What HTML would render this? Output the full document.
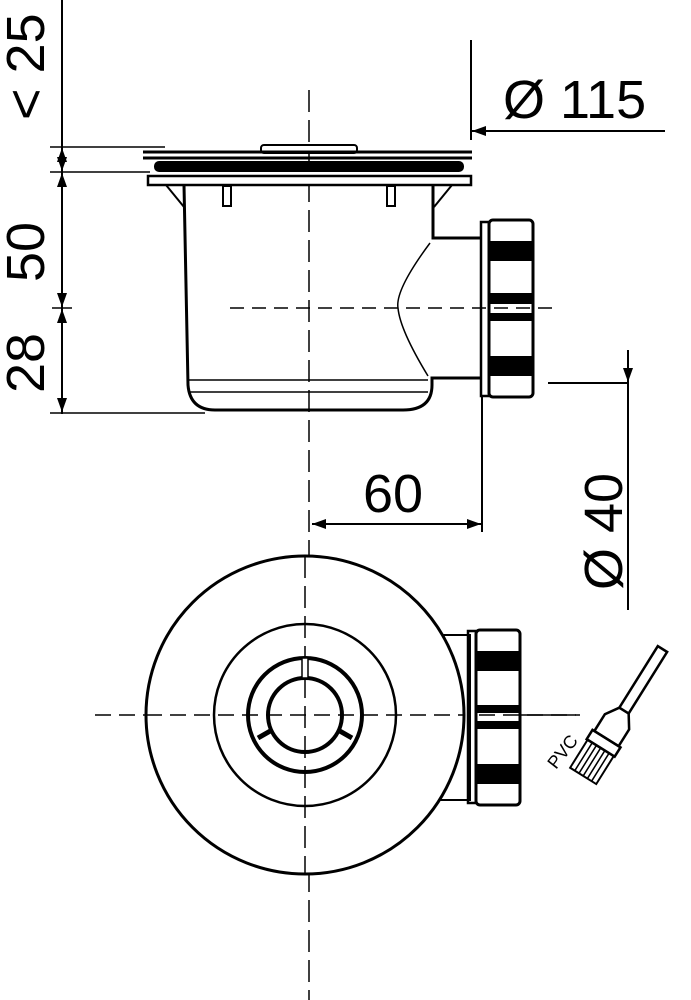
<!DOCTYPE html><html><head><style>body{margin:0;background:#fff}svg{display:block}text{font-family:"Liberation Sans",sans-serif;fill:#000}</style></head><body>
<svg width="691" height="1000" viewBox="0 0 691 1000" xmlns="http://www.w3.org/2000/svg">
<defs><marker id="a" markerWidth="14" markerHeight="10" refX="14" refY="5" orient="auto" markerUnits="userSpaceOnUse"><path d="M0,0 L14,5 L0,10z" fill="#000"/></marker></defs>
<g stroke="#000" fill="none" stroke-width="2">
<line x1="309" y1="90" x2="309" y2="1000" stroke-width="1.5" stroke-dasharray="22,8"/>
<line x1="230" y1="308" x2="560" y2="308" stroke-width="1.5" stroke-dasharray="14,8"/>
<line x1="95" y1="715" x2="580" y2="715" stroke-width="1.5" stroke-dasharray="16,8"/>
<rect x="261" y="145" width="96" height="8" rx="3" fill="#fff"/>
<line x1="143" y1="152" x2="472" y2="152" stroke-width="3"/>
<line x1="143" y1="158" x2="472" y2="158" stroke-width="3"/>
<rect x="155" y="162" width="308" height="9" rx="4" fill="#000"/>
<rect x="148" y="176" width="323" height="9" fill="#fff" stroke-width="2.5"/>
<line x1="166" y1="185" x2="184" y2="207"/><line x1="452" y1="185" x2="434" y2="207"/>
<rect x="223" y="186" width="8" height="20"/><rect x="387" y="186" width="8" height="20"/>
<path d="M184,185 L188,385 Q190,410 215,410 L403,410 Q432,410 432,385 L432,378 L480,378 M480,238 L433,238 L433,185" stroke-width="3"/>
<line x1="188" y1="380" x2="428" y2="380" stroke-width="1.5"/><line x1="188" y1="392" x2="428" y2="392" stroke-width="1.5"/>
<path d="M430,243 Q395,290 398,308 Q400,330 428,376" stroke-width="1.5"/>
<rect x="481" y="222" width="8" height="174" stroke-width="2.5"/>
<rect x="489" y="220" width="44" height="177" rx="4" stroke-width="3"/>
<rect x="489" y="242" width="44" height="18" fill="#000"/><rect x="489" y="294" width="44" height="9" fill="#000"/><rect x="489" y="314" width="44" height="6" fill="#000"/><rect x="489" y="357" width="44" height="18" fill="#000"/>
<line x1="62" y1="0" x2="62" y2="414"/>
<line x1="50" y1="147" x2="165" y2="147" stroke-width="1.5"/>
<line x1="50" y1="172" x2="150" y2="172" stroke-width="1.5"/>
<line x1="50" y1="413" x2="205" y2="413" stroke-width="1.5"/>
<line x1="62" y1="165" x2="62" y2="148" marker-end="url(#a)"/>
<line x1="62" y1="155" x2="62" y2="171" marker-end="url(#a)"/>
<line x1="62" y1="195" x2="62" y2="173" marker-end="url(#a)"/>
<line x1="62" y1="285" x2="62" y2="307" marker-end="url(#a)"/>
<line x1="62" y1="330" x2="62" y2="309" marker-end="url(#a)"/>
<line x1="62" y1="390" x2="62" y2="412" marker-end="url(#a)"/>
<line x1="52" y1="308" x2="72" y2="308" stroke-width="1.5"/>
<line x1="471" y1="40" x2="471" y2="140"/>
<line x1="665" y1="131" x2="472" y2="131" marker-end="url(#a)"/>
<line x1="482" y1="395" x2="482" y2="532"/>
<line x1="395" y1="524" x2="312" y2="524" marker-end="url(#a)"/>
<line x1="395" y1="524" x2="481" y2="524" marker-end="url(#a)"/>
<line x1="628" y1="350" x2="628" y2="610"/>
<line x1="628" y1="355" x2="628" y2="382" marker-end="url(#a)"/>
<line x1="548" y1="383" x2="628" y2="383"/>
<rect x="440" y="635" width="30" height="165" fill="#fff"/>
<circle cx="305" cy="715" r="159" stroke-width="3" fill="#fff"/>
<circle cx="305" cy="715" r="91" stroke-width="2.5"/>
<circle cx="305" cy="715" r="57" stroke-width="4"/>
<circle cx="305" cy="715" r="37" stroke-width="4"/>
<line x1="305" y1="556" x2="305" y2="874" stroke-width="1.5" stroke-dasharray="22,8"/>
<line x1="146" y1="715" x2="464" y2="715" stroke-width="1.5" stroke-dasharray="16,8"/>
<rect x="302" y="658" width="6" height="20" stroke-width="1.5" fill="#fff"/>
<line x1="258" y1="738" x2="272" y2="730" stroke-width="5"/>
<line x1="352" y1="738" x2="338" y2="730" stroke-width="5"/>
<rect x="468" y="631" width="8" height="172" stroke-width="2.5"/>
<rect x="476" y="630" width="44" height="175" rx="4" stroke-width="3"/>
<rect x="476" y="652" width="44" height="18" fill="#000"/><rect x="476" y="706" width="44" height="6" fill="#000"/><rect x="476" y="722" width="44" height="6" fill="#000"/><rect x="476" y="765" width="44" height="18" fill="#000"/>
<line x1="520" y1="715" x2="576" y2="715" stroke-width="1.5"/>
<g transform="translate(610,733) rotate(32) scale(1.1)">
<rect x="-5" y="-90" width="10" height="66" stroke-width="2.3"/>
<path d="M-5,-24 L-13,-12 L-13,6 L13,6 L13,-12 L5,-24" stroke-width="2.3"/>
<rect x="-15" y="6" width="30" height="10" stroke-width="2.3"/>
<rect x="-14" y="16" width="28" height="30" stroke-width="1.8"/>
<path d="M-9,16v30M-4.5,16v30M0,16v30M4.5,16v30M9,16v30" stroke-width="1.4"/>
</g>
</g>
<g font-size="54">
<text transform="translate(44,120) rotate(-90)">&lt; 25</text>
<text transform="translate(44,282) rotate(-90)">50</text>
<text transform="translate(44,393) rotate(-90)">28</text>
<text x="503" y="118">Ø 115</text>
<text x="363" y="512">60</text>
<text transform="translate(622,590) rotate(-90)">Ø 40</text>
</g>
<text transform="translate(556,770) rotate(-52)" font-size="18">PVC</text>
</svg></body></html>
